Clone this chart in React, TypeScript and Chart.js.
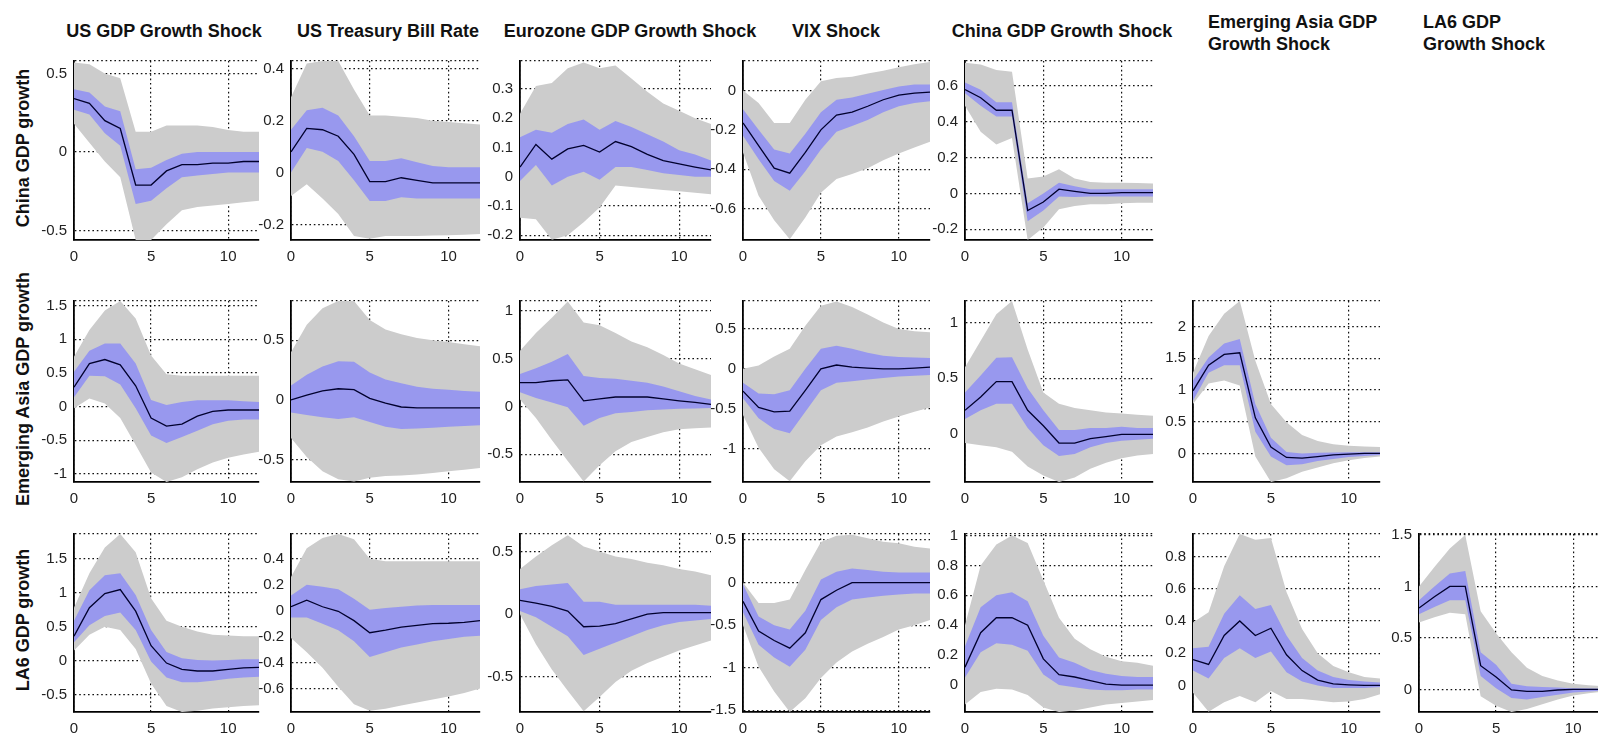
import React, { useEffect, useRef } from "react";
import { Chart, registerables } from "chart.js";
Chart.register(...registerables);

// ---------- DATA ----------
const HORIZON = [0, 1, 2, 3, 4, 5, 6, 7, 8, 9, 10, 11, 12];
const X_TICKS = [0, 5, 10];

const SHOCK_TITLES = [
  "US GDP Growth Shock",
  "US Treasury Bill Rate",
  "Eurozone GDP Growth Shock",
  "VIX Shock",
  "China GDP Growth Shock",
];
const SHOCK_TITLES_2LINE = [
  ["Emerging Asia GDP", "Growth Shock"],
  ["LA6 GDP", "Growth Shock"],
];
const RESPONSE_LABELS = ["China GDP growth", "Emerging Asia GDP growth", "LA6 GDP growth"];

// China GDP growth responses
const cnUS_mid = [0.34, 0.31, 0.2, 0.15, -0.21, -0.21, -0.12, -0.08, -0.08, -0.07, -0.07, -0.06, -0.06];
const cnUS_blueHi = [0.4, 0.38, 0.29, 0.26, -0.11, -0.1, -0.05, -0.01, 0.0, 0.0, 0.0, 0.0, 0.0];
const cnUS_blueLo = [0.27, 0.24, 0.12, 0.04, -0.33, -0.31, -0.23, -0.16, -0.15, -0.14, -0.13, -0.13, -0.13];
const cnUS_grayHi = [0.57, 0.56, 0.5, 0.47, 0.13, 0.13, 0.17, 0.17, 0.17, 0.16, 0.14, 0.13, 0.13];
const cnUS_grayLo = [0.18, 0.06, -0.06, -0.16, -0.56, -0.56, -0.46, -0.37, -0.35, -0.34, -0.33, -0.32, -0.31];
const cnUS_yTicks = [-0.5, 0, 0.5];
const cnUS_yRange = [-0.56, 0.58];

const cnTB_mid = [0.08, 0.17, 0.165, 0.14, 0.07, -0.035, -0.035, -0.02, -0.03, -0.04, -0.04, -0.04, -0.04];
const cnTB_blueHi = [0.165, 0.24, 0.25, 0.22, 0.14, 0.045, 0.045, 0.055, 0.04, 0.025, 0.02, 0.02, 0.02];
const cnTB_blueLo = [0.0, 0.095, 0.08, 0.045, -0.03, -0.11, -0.11, -0.095, -0.1, -0.1, -0.1, -0.1, -0.1];
const cnTB_grayHi = [0.29, 0.42, 0.43, 0.43, 0.32, 0.22, 0.22, 0.215, 0.21, 0.2, 0.195, 0.19, 0.185];
const cnTB_grayLo = [-0.09, -0.045, -0.1, -0.16, -0.245, -0.255, -0.245, -0.245, -0.245, -0.243, -0.242, -0.24, -0.237];
const cnTB_yTicks = [-0.2, 0, 0.2, 0.4];
const cnTB_yRange = [-0.26, 0.43];

const cnEZ_mid = [0.033, 0.11, 0.06, 0.095, 0.107, 0.084, 0.12, 0.103, 0.076, 0.055, 0.044, 0.033, 0.023];
const cnEZ_blueHi = [0.135, 0.16, 0.15, 0.18, 0.195, 0.16, 0.19, 0.17, 0.145, 0.12, 0.09, 0.076, 0.055];
const cnEZ_blueLo = [-0.015, 0.04, -0.03, 0.0, 0.017, -0.01, 0.033, 0.033, 0.023, 0.012, 0.006, 0.0, 0.0];
const cnEZ_grayHi = [0.215, 0.31, 0.32, 0.37, 0.39, 0.37, 0.38, 0.335, 0.29, 0.25, 0.225, 0.2, 0.18];
const cnEZ_grayLo = [-0.14, -0.145, -0.215, -0.2, -0.155, -0.105, -0.03, -0.035, -0.04, -0.045, -0.05, -0.055, -0.06];
const cnEZ_yTicks = [-0.2, -0.1, 0, 0.1, 0.2, 0.3];
const cnEZ_yRange = [-0.216, 0.395];

const cnVIX_mid = [-0.165, -0.28, -0.395, -0.42, -0.315, -0.2, -0.125, -0.11, -0.08, -0.047, -0.024, -0.013, -0.008];
const cnVIX_blueHi = [-0.095, -0.2, -0.3, -0.32, -0.22, -0.11, -0.047, -0.035, -0.016, 0.003, 0.02, 0.03, 0.03];
const cnVIX_blueLo = [-0.23, -0.35, -0.46, -0.51, -0.41, -0.3, -0.21, -0.18, -0.15, -0.11, -0.08, -0.063, -0.055];
const cnVIX_grayHi = [0.0, -0.063, -0.165, -0.165, -0.047, 0.047, 0.063, 0.07, 0.087, 0.1, 0.118, 0.134, 0.145];
const cnVIX_grayLo = [-0.315, -0.535, -0.66, -0.756, -0.645, -0.52, -0.45, -0.425, -0.395, -0.355, -0.32, -0.29, -0.26];
const cnVIX_yTicks = [-0.6, -0.4, -0.2, 0];
const cnVIX_yRange = [-0.76, 0.15];

const cnCN_mid = [0.58, 0.535, 0.465, 0.465, -0.095, -0.048, 0.024, 0.012, 0.0, 0.0, 0.005, 0.005, 0.005];
const cnCN_blueHi = [0.62, 0.58, 0.51, 0.51, -0.055, 0.0, 0.06, 0.04, 0.024, 0.024, 0.024, 0.024, 0.024];
const cnCN_blueLo = [0.56, 0.49, 0.43, 0.43, -0.155, -0.095, -0.017, -0.02, -0.017, -0.017, -0.017, -0.017, -0.017];
const cnCN_grayHi = [0.73, 0.72, 0.69, 0.68, 0.083, 0.095, 0.135, 0.083, 0.064, 0.06, 0.06, 0.058, 0.055];
const cnCN_grayLo = [0.49, 0.345, 0.274, 0.31, -0.26, -0.19, -0.088, -0.07, -0.06, -0.06, -0.055, -0.052, -0.052];
const cnCN_yTicks = [-0.2, 0, 0.2, 0.4, 0.6];
const cnCN_yRange = [-0.26, 0.74];

// Emerging Asia GDP growth responses
const eaUS_mid = [0.29, 0.64, 0.7, 0.62, 0.31, -0.17, -0.29, -0.26, -0.14, -0.07, -0.05, -0.05, -0.05];
const eaUS_blueHi = [0.52, 0.83, 0.94, 0.94, 0.64, 0.1, 0.024, 0.07, 0.095, 0.095, 0.095, 0.08, 0.07];
const eaUS_blueLo = [0.14, 0.46, 0.45, 0.33, -0.024, -0.43, -0.54, -0.45, -0.36, -0.26, -0.21, -0.19, -0.19];
const eaUS_grayHi = [0.74, 1.14, 1.43, 1.57, 1.31, 0.76, 0.48, 0.46, 0.46, 0.46, 0.46, 0.46, 0.46];
const eaUS_grayLo = [-0.024, 0.12, 0.048, -0.17, -0.57, -0.98, -1.12, -1.05, -0.93, -0.83, -0.76, -0.71, -0.67];
const eaUS_yTicks = [-1, -0.5, 0, 0.5, 1, 1.5];
const eaUS_yRange = [-1.12, 1.57];

const eaTB_mid = [0.0, 0.04, 0.075, 0.093, 0.085, 0.013, -0.027, -0.06, -0.067, -0.067, -0.067, -0.067, -0.067];
const eaTB_blueHi = [0.12, 0.21, 0.28, 0.325, 0.32, 0.23, 0.17, 0.14, 0.11, 0.093, 0.085, 0.075, 0.067];
const eaTB_blueLo = [-0.107, -0.128, -0.147, -0.16, -0.147, -0.187, -0.227, -0.245, -0.24, -0.235, -0.227, -0.22, -0.213];
const eaTB_grayHi = [0.4, 0.63, 0.77, 0.83, 0.83, 0.67, 0.59, 0.55, 0.52, 0.5, 0.485, 0.467, 0.45];
const eaTB_grayLo = [-0.32, -0.48, -0.6, -0.667, -0.685, -0.655, -0.64, -0.635, -0.627, -0.615, -0.6, -0.587, -0.573];
const eaTB_yTicks = [-0.5, 0, 0.5];
const eaTB_yRange = [-0.69, 0.83];

const eaEZ_mid = [0.25, 0.25, 0.27, 0.28, 0.06, 0.08, 0.1, 0.1, 0.1, 0.08, 0.06, 0.043, 0.023];
const eaEZ_blueHi = [0.34, 0.4, 0.47, 0.55, 0.32, 0.3, 0.29, 0.27, 0.25, 0.21, 0.16, 0.11, 0.075];
const eaEZ_blueLo = [0.15, 0.09, 0.043, -0.007, -0.2, -0.12, -0.07, -0.056, -0.04, -0.03, -0.023, -0.02, -0.016];
const eaEZ_grayHi = [0.585, 0.77, 0.93, 1.1, 0.88, 0.85, 0.77, 0.68, 0.62, 0.54, 0.45, 0.39, 0.33];
const eaEZ_grayLo = [0.075, -0.12, -0.35, -0.57, -0.786, -0.615, -0.467, -0.37, -0.32, -0.27, -0.237, -0.227, -0.22];
const eaEZ_yTicks = [-0.5, 0, 0.5, 1];
const eaEZ_yRange = [-0.79, 1.105];

const eaVIX_mid = [-0.28, -0.485, -0.54, -0.53, -0.27, 0.0, 0.047, 0.02, 0.008, 0.0, 0.0, 0.008, 0.02];
const eaVIX_blueHi = [-0.175, -0.31, -0.32, -0.27, 0.0, 0.25, 0.29, 0.25, 0.2, 0.163, 0.147, 0.14, 0.135];
const eaVIX_blueLo = [-0.37, -0.62, -0.755, -0.81, -0.54, -0.27, -0.175, -0.155, -0.135, -0.116, -0.097, -0.088, -0.078];
const eaVIX_grayHi = [0.0, 0.04, 0.155, 0.25, 0.54, 0.79, 0.845, 0.775, 0.68, 0.58, 0.5, 0.47, 0.457];
const eaVIX_grayLo = [-0.58, -0.99, -1.26, -1.41, -1.16, -0.96, -0.85, -0.795, -0.736, -0.66, -0.6, -0.54, -0.485];
const eaVIX_yTicks = [-1, -0.5, 0, 0.5];
const eaVIX_yRange = [-1.42, 0.85];

const eaCN_mid = [0.21, 0.33, 0.47, 0.47, 0.21, 0.07, -0.087, -0.087, -0.047, -0.028, -0.008, -0.008, -0.008];
const eaCN_blueHi = [0.37, 0.525, 0.685, 0.69, 0.41, 0.21, 0.032, 0.032, 0.05, 0.05, 0.06, 0.05, 0.05];
const eaCN_blueLo = [0.13, 0.21, 0.27, 0.27, 0.05, -0.107, -0.205, -0.186, -0.126, -0.087, -0.067, -0.057, -0.047];
const eaCN_grayHi = [0.6, 0.84, 1.08, 1.2, 0.76, 0.37, 0.27, 0.23, 0.21, 0.19, 0.18, 0.17, 0.16];
const eaCN_grayLo = [-0.087, -0.107, -0.126, -0.166, -0.3, -0.38, -0.44, -0.4, -0.32, -0.265, -0.225, -0.2, -0.186];
const eaCN_yTicks = [0, 0.5, 1];
const eaCN_yRange = [-0.44, 1.2];

const eaEA_mid = [0.985, 1.39, 1.56, 1.585, 0.56, 0.1, -0.063, -0.073, -0.05, -0.024, -0.01, 0.0, 0.0];
const eaEA_blueHi = [1.15, 1.51, 1.73, 1.8, 0.78, 0.245, 0.024, 0.0, 0.01, 0.015, 0.02, 0.02, 0.02];
const eaEA_blueLo = [0.83, 1.27, 1.39, 1.39, 0.34, -0.05, -0.185, -0.17, -0.12, -0.088, -0.058, -0.04, -0.024];
const eaEA_grayHi = [1.27, 1.85, 2.2, 2.4, 1.46, 0.78, 0.49, 0.29, 0.195, 0.146, 0.12, 0.11, 0.1];
const eaEA_grayLo = [0.78, 1.1, 1.15, 1.07, -0.05, -0.45, -0.39, -0.29, -0.22, -0.156, -0.107, -0.073, -0.05];
const eaEA_yTicks = [0, 0.5, 1, 1.5, 2];
const eaEA_yRange = [-0.45, 2.4];

// LA6 GDP growth responses
const laUS_mid = [0.36, 0.78, 0.99, 1.05, 0.73, 0.22, -0.037, -0.13, -0.154, -0.154, -0.13, -0.107, -0.1];
const laUS_blueHi = [0.59, 1.04, 1.26, 1.29, 0.97, 0.45, 0.126, 0.033, 0.01, 0.0, 0.01, 0.02, 0.02];
const laUS_blueLo = [0.27, 0.52, 0.66, 0.71, 0.45, -0.014, -0.25, -0.32, -0.32, -0.3, -0.27, -0.25, -0.24];
const laUS_grayHi = [0.78, 1.29, 1.67, 1.87, 1.6, 0.92, 0.59, 0.5, 0.43, 0.38, 0.37, 0.36, 0.36];
const laUS_grayLo = [0.15, 0.38, 0.5, 0.45, 0.17, -0.34, -0.67, -0.76, -0.74, -0.71, -0.69, -0.67, -0.66];
const laUS_yTicks = [-0.5, 0, 0.5, 1, 1.5];
const laUS_yRange = [-0.76, 1.87];

const laTB_mid = [0.03, 0.08, 0.03, -0.005, -0.077, -0.17, -0.15, -0.126, -0.114, -0.1, -0.097, -0.09, -0.077];
const laTB_blueHi = [0.116, 0.2, 0.184, 0.165, 0.092, 0.007, 0.02, 0.03, 0.04, 0.044, 0.044, 0.044, 0.044];
const laTB_blueLo = [-0.053, -0.053, -0.1, -0.15, -0.235, -0.356, -0.32, -0.283, -0.26, -0.235, -0.218, -0.2, -0.194];
const laTB_grayHi = [0.26, 0.48, 0.56, 0.59, 0.55, 0.4, 0.38, 0.38, 0.38, 0.38, 0.38, 0.38, 0.38];
const laTB_grayLo = [-0.21, -0.32, -0.44, -0.585, -0.72, -0.77, -0.755, -0.73, -0.707, -0.683, -0.66, -0.634, -0.6];
const laTB_yTicks = [-0.6, -0.4, -0.2, 0, 0.2, 0.4];
const laTB_yRange = [-0.78, 0.59];

const laEZ_mid = [0.11, 0.088, 0.063, 0.025, -0.1, -0.095, -0.075, -0.038, 0.0, 0.013, 0.013, 0.013, 0.013];
const laEZ_blueHi = [0.2, 0.225, 0.238, 0.25, 0.1, 0.1, 0.075, 0.075, 0.075, 0.075, 0.075, 0.075, 0.068];
const laEZ_blueLo = [0.025, -0.025, -0.1, -0.175, -0.325, -0.275, -0.225, -0.175, -0.125, -0.088, -0.063, -0.05, -0.038];
const laEZ_grayHi = [0.36, 0.46, 0.55, 0.63, 0.54, 0.5, 0.46, 0.44, 0.41, 0.39, 0.36, 0.34, 0.31];
const laEZ_grayLo = [0.0, -0.24, -0.44, -0.61, -0.775, -0.66, -0.54, -0.45, -0.39, -0.34, -0.29, -0.25, -0.21];
const laEZ_yTicks = [-0.5, 0, 0.5];
const laEZ_yRange = [-0.78, 0.64];

const laVIX_mid = [-0.22, -0.57, -0.68, -0.77, -0.59, -0.2, -0.09, 0.0, 0.0, 0.0, 0.0, 0.0, 0.0];
const laVIX_blueHi = [-0.02, -0.4, -0.5, -0.55, -0.33, 0.037, 0.128, 0.165, 0.147, 0.128, 0.117, 0.117, 0.117];
const laVIX_blueLo = [-0.35, -0.73, -0.88, -0.99, -0.79, -0.44, -0.29, -0.2, -0.176, -0.154, -0.14, -0.128, -0.128];
const laVIX_grayHi = [0.0, -0.24, -0.24, -0.2, 0.147, 0.477, 0.55, 0.56, 0.52, 0.48, 0.46, 0.42, 0.4];
const laVIX_grayLo = [-0.5, -0.99, -1.28, -1.52, -1.36, -1.12, -0.94, -0.81, -0.72, -0.64, -0.55, -0.5, -0.44];
const laVIX_yTicks = [-1.5, -1, -0.5, 0, 0.5];
const laVIX_yRange = [-1.52, 0.57];

const laCN_mid = [0.12, 0.35, 0.45, 0.45, 0.4, 0.175, 0.07, 0.054, 0.03, 0.006, 0.0, 0.0, 0.0];
const laCN_blueHi = [0.26, 0.52, 0.6, 0.62, 0.56, 0.33, 0.185, 0.15, 0.1, 0.075, 0.06, 0.054, 0.054];
const laCN_blueLo = [0.05, 0.22, 0.28, 0.27, 0.23, 0.07, 0.0, -0.015, -0.03, -0.035, -0.035, -0.03, -0.03];
const laCN_grayHi = [0.4, 0.8, 0.94, 1.0, 0.95, 0.7, 0.45, 0.31, 0.24, 0.19, 0.16, 0.15, 0.13];
const laCN_grayLo = [-0.13, -0.046, -0.025, -0.03, -0.067, -0.15, -0.18, -0.17, -0.15, -0.13, -0.12, -0.11, -0.1];
const laCN_yTicks = [0, 0.2, 0.4, 0.6, 0.8, 1];
const laCN_yRange = [-0.18, 1.01];

const laEA_mid = [0.16, 0.13, 0.31, 0.4, 0.31, 0.355, 0.19, 0.092, 0.033, 0.01, 0.004, 0.0, 0.0];
const laEA_blueHi = [0.23, 0.24, 0.445, 0.56, 0.475, 0.5, 0.31, 0.17, 0.092, 0.053, 0.033, 0.024, 0.018];
const laEA_blueLo = [0.092, 0.043, 0.17, 0.23, 0.17, 0.21, 0.082, 0.024, 0.0, -0.016, -0.016, -0.016, -0.01];
const laEA_grayHi = [0.39, 0.455, 0.74, 0.94, 0.905, 0.915, 0.58, 0.35, 0.2, 0.12, 0.082, 0.053, 0.043];
const laEA_grayLo = [-0.045, -0.163, -0.104, -0.065, -0.104, -0.035, -0.084, -0.084, -0.094, -0.104, -0.1, -0.084, -0.055];
const laEA_yTicks = [0, 0.2, 0.4, 0.6, 0.8];
const laEA_yRange = [-0.165, 0.94];

const laLA_mid = [0.79, 0.9, 1.0, 1.0, 0.23, 0.12, -0.006, -0.02, -0.02, -0.006, 0.0, 0.0, 0.0];
const laLA_blueHi = [0.865, 1.0, 1.125, 1.15, 0.36, 0.24, 0.055, 0.03, 0.024, 0.018, 0.012, 0.009, 0.006];
const laLA_blueLo = [0.73, 0.8, 0.865, 0.865, 0.13, 0.01, -0.083, -0.098, -0.073, -0.052, -0.03, -0.02, -0.012];
const laLA_grayHi = [1.0, 1.19, 1.37, 1.5, 0.76, 0.545, 0.36, 0.21, 0.13, 0.086, 0.055, 0.04, 0.03];
const laLA_grayLo = [0.65, 0.7, 0.745, 0.73, -0.067, -0.16, -0.22, -0.19, -0.144, -0.098, -0.06, -0.037, -0.02];
const laLA_yTicks = [0, 0.5, 1, 1.5];
const laLA_yRange = [-0.22, 1.51];

// ---------- LAYOUT / STYLE ----------
const ROW_TOP = [49, 289, 522];
const ROW_BOTTOM = [240, 482, 712];
const COL_LEFT = [74, 291, 520, 743, 965, 1193, 1419];
const COL_RIGHT = [259, 480, 711, 930, 1153, 1380, 1604];
const TITLE_CENTER = [164, 388, 630, 836, 1062];
const TITLE2_LEFT = [1208, 1423];

const GRAY = "rgb(204,204,204)";
const BLUE = "rgb(152,152,238)";
const LINE = "rgb(0,0,45)";
const FONT = "'Liberation Sans', Arial, Helvetica, sans-serif";
const Y_AXIS_W = 52;
const X_AXIS_H = 30;
const PAD_T = 4;
const PAD_R = 4;

type PanelSpec = {
  row: number;
  col: number;
  mid: number[];
  blueHi: number[];
  blueLo: number[];
  grayHi: number[];
  grayLo: number[];
  yTicks: number[];
  yRange: number[];
};

const PANELS: PanelSpec[] = [
  { row: 0, col: 0, mid: cnUS_mid, blueHi: cnUS_blueHi, blueLo: cnUS_blueLo, grayHi: cnUS_grayHi, grayLo: cnUS_grayLo, yTicks: cnUS_yTicks, yRange: cnUS_yRange },
  { row: 0, col: 1, mid: cnTB_mid, blueHi: cnTB_blueHi, blueLo: cnTB_blueLo, grayHi: cnTB_grayHi, grayLo: cnTB_grayLo, yTicks: cnTB_yTicks, yRange: cnTB_yRange },
  { row: 0, col: 2, mid: cnEZ_mid, blueHi: cnEZ_blueHi, blueLo: cnEZ_blueLo, grayHi: cnEZ_grayHi, grayLo: cnEZ_grayLo, yTicks: cnEZ_yTicks, yRange: cnEZ_yRange },
  { row: 0, col: 3, mid: cnVIX_mid, blueHi: cnVIX_blueHi, blueLo: cnVIX_blueLo, grayHi: cnVIX_grayHi, grayLo: cnVIX_grayLo, yTicks: cnVIX_yTicks, yRange: cnVIX_yRange },
  { row: 0, col: 4, mid: cnCN_mid, blueHi: cnCN_blueHi, blueLo: cnCN_blueLo, grayHi: cnCN_grayHi, grayLo: cnCN_grayLo, yTicks: cnCN_yTicks, yRange: cnCN_yRange },
  { row: 1, col: 0, mid: eaUS_mid, blueHi: eaUS_blueHi, blueLo: eaUS_blueLo, grayHi: eaUS_grayHi, grayLo: eaUS_grayLo, yTicks: eaUS_yTicks, yRange: eaUS_yRange },
  { row: 1, col: 1, mid: eaTB_mid, blueHi: eaTB_blueHi, blueLo: eaTB_blueLo, grayHi: eaTB_grayHi, grayLo: eaTB_grayLo, yTicks: eaTB_yTicks, yRange: eaTB_yRange },
  { row: 1, col: 2, mid: eaEZ_mid, blueHi: eaEZ_blueHi, blueLo: eaEZ_blueLo, grayHi: eaEZ_grayHi, grayLo: eaEZ_grayLo, yTicks: eaEZ_yTicks, yRange: eaEZ_yRange },
  { row: 1, col: 3, mid: eaVIX_mid, blueHi: eaVIX_blueHi, blueLo: eaVIX_blueLo, grayHi: eaVIX_grayHi, grayLo: eaVIX_grayLo, yTicks: eaVIX_yTicks, yRange: eaVIX_yRange },
  { row: 1, col: 4, mid: eaCN_mid, blueHi: eaCN_blueHi, blueLo: eaCN_blueLo, grayHi: eaCN_grayHi, grayLo: eaCN_grayLo, yTicks: eaCN_yTicks, yRange: eaCN_yRange },
  { row: 1, col: 5, mid: eaEA_mid, blueHi: eaEA_blueHi, blueLo: eaEA_blueLo, grayHi: eaEA_grayHi, grayLo: eaEA_grayLo, yTicks: eaEA_yTicks, yRange: eaEA_yRange },
  { row: 2, col: 0, mid: laUS_mid, blueHi: laUS_blueHi, blueLo: laUS_blueLo, grayHi: laUS_grayHi, grayLo: laUS_grayLo, yTicks: laUS_yTicks, yRange: laUS_yRange },
  { row: 2, col: 1, mid: laTB_mid, blueHi: laTB_blueHi, blueLo: laTB_blueLo, grayHi: laTB_grayHi, grayLo: laTB_grayLo, yTicks: laTB_yTicks, yRange: laTB_yRange },
  { row: 2, col: 2, mid: laEZ_mid, blueHi: laEZ_blueHi, blueLo: laEZ_blueLo, grayHi: laEZ_grayHi, grayLo: laEZ_grayLo, yTicks: laEZ_yTicks, yRange: laEZ_yRange },
  { row: 2, col: 3, mid: laVIX_mid, blueHi: laVIX_blueHi, blueLo: laVIX_blueLo, grayHi: laVIX_grayHi, grayLo: laVIX_grayLo, yTicks: laVIX_yTicks, yRange: laVIX_yRange },
  { row: 2, col: 4, mid: laCN_mid, blueHi: laCN_blueHi, blueLo: laCN_blueLo, grayHi: laCN_grayHi, grayLo: laCN_grayLo, yTicks: laCN_yTicks, yRange: laCN_yRange },
  { row: 2, col: 5, mid: laEA_mid, blueHi: laEA_blueHi, blueLo: laEA_blueLo, grayHi: laEA_grayHi, grayLo: laEA_grayLo, yTicks: laEA_yTicks, yRange: laEA_yRange },
  { row: 2, col: 6, mid: laLA_mid, blueHi: laLA_blueHi, blueLo: laLA_blueLo, grayHi: laLA_grayHi, grayLo: laLA_grayLo, yTicks: laLA_yTicks, yRange: laLA_yRange },
];

function pts(values: number[]) {
  return HORIZON.map((h, i) => ({ x: h, y: values[i] }));
}

function fmt(v: number) {
  if (Math.abs(v) < 1e-9) return "0";
  return String(Math.round(v * 1000) / 1000);
}

function Panel({ spec }: { spec: PanelSpec }) {
  const ref = useRef<HTMLCanvasElement | null>(null);
  const plotW = COL_RIGHT[spec.col] - COL_LEFT[spec.col];
  const plotH = ROW_BOTTOM[spec.row] - ROW_TOP[spec.row];
  const w = plotW + Y_AXIS_W + PAD_R;
  const h = plotH + PAD_T + X_AXIS_H;

  useEffect(() => {
    if (!ref.current) return;
    const [ymin, ymax] = spec.yRange;
    const tickFont = { family: FONT, size: 15 };
    const gridOpts = { color: "#111", lineWidth: 1.2, drawTicks: false };
    const borderOpts = { display: true, color: "#000", width: 1.8, dash: [1.6, 2.8] };
    const chart = new Chart(ref.current, {
      type: "line",
      data: {
        datasets: [
          { data: pts(spec.mid), borderColor: LINE, borderWidth: 1.3, pointRadius: 0, fill: false, tension: 0 },
          { data: pts(spec.blueHi), borderColor: "transparent", borderWidth: 0, backgroundColor: BLUE, pointRadius: 0, fill: "+1", tension: 0 },
          { data: pts(spec.blueLo), borderColor: "transparent", borderWidth: 0, pointRadius: 0, fill: false, tension: 0 },
          { data: pts(spec.grayHi), borderColor: "transparent", borderWidth: 0, backgroundColor: GRAY, pointRadius: 0, fill: "+1", tension: 0 },
          { data: pts(spec.grayLo), borderColor: "transparent", borderWidth: 0, pointRadius: 0, fill: false, tension: 0 },
        ],
      },
      options: {
        animation: false,
        responsive: false,
        maintainAspectRatio: false,
        events: [],
        layout: { padding: { top: PAD_T, right: PAD_R, left: 0, bottom: 0 } },
        plugins: { legend: { display: false }, tooltip: { enabled: false }, title: { display: false } },
        scales: {
          x: {
            type: "linear",
            min: 0,
            max: 12,
            z: 1,
            afterBuildTicks: (s: any) => {
              s.ticks = X_TICKS.map((v) => ({ value: v }));
            },
            afterFit: (s: any) => {
              s.height = X_AXIS_H;
            },
            grid: gridOpts,
            border: borderOpts,
            ticks: { color: "#222", font: tickFont, padding: 8, maxRotation: 0, autoSkip: false, callback: (v: any) => fmt(Number(v)) },
          },
          y: {
            type: "linear",
            min: ymin,
            max: ymax,
            z: 1,
            afterBuildTicks: (s: any) => {
              s.ticks = [...spec.yTicks.map((v) => ({ value: v })), { value: ymax }];
            },
            afterFit: (s: any) => {
              s.width = Y_AXIS_W;
            },
            grid: gridOpts,
            border: borderOpts,
            ticks: {
              color: "#222",
              font: tickFont,
              padding: 7,
              autoSkip: false,
              callback: (v: any) => {
                const n = Number(v);
                return spec.yTicks.some((t) => Math.abs(t - n) < 1e-9) ? fmt(n) : "";
              },
            },
          },
        },
      } as any,
    });
    return () => chart.destroy();
  }, [spec]);

  return (
    <canvas
      ref={ref}
      width={w}
      height={h}
      style={{
        position: "absolute",
        left: COL_LEFT[spec.col] - Y_AXIS_W,
        top: ROW_TOP[spec.row] - PAD_T,
        width: w,
        height: h,
      }}
    />
  );
}

export default function App() {
  const titleStyle: React.CSSProperties = {
    position: "absolute",
    fontFamily: FONT,
    fontWeight: "bold",
    fontSize: 18,
    lineHeight: "22px",
    color: "#111",
    whiteSpace: "nowrap",
  };
  return (
    <div
      style={{
        position: "fixed",
        left: 0,
        top: 0,
        width: 1598,
        height: 735,
        overflow: "hidden",
        background: "#fff",
      }}
    >
      {SHOCK_TITLES.map((t, i) => (
        <div key={t} style={{ ...titleStyle, left: TITLE_CENTER[i], top: 20, transform: "translateX(-50%)" }}>
          {t}
        </div>
      ))}
      {SHOCK_TITLES_2LINE.map((lines, i) => (
        <div key={lines.join(" ")} style={{ ...titleStyle, left: TITLE2_LEFT[i], top: 11 }}>
          {lines.map((l) => (
            <div key={l}>{l}</div>
          ))}
        </div>
      ))}
      {RESPONSE_LABELS.map((t, r) => (
        <div
          key={t}
          style={{
            ...titleStyle,
            left: 23,
            top: (ROW_TOP[r] + ROW_BOTTOM[r]) / 2 + 3,
            transform: "translate(-50%, -50%) rotate(-90deg)",
          }}
        >
          {t}
        </div>
      ))}
      {PANELS.map((p) => (
        <Panel key={`${p.row}-${p.col}`} spec={p} />
      ))}
    </div>
  );
}
